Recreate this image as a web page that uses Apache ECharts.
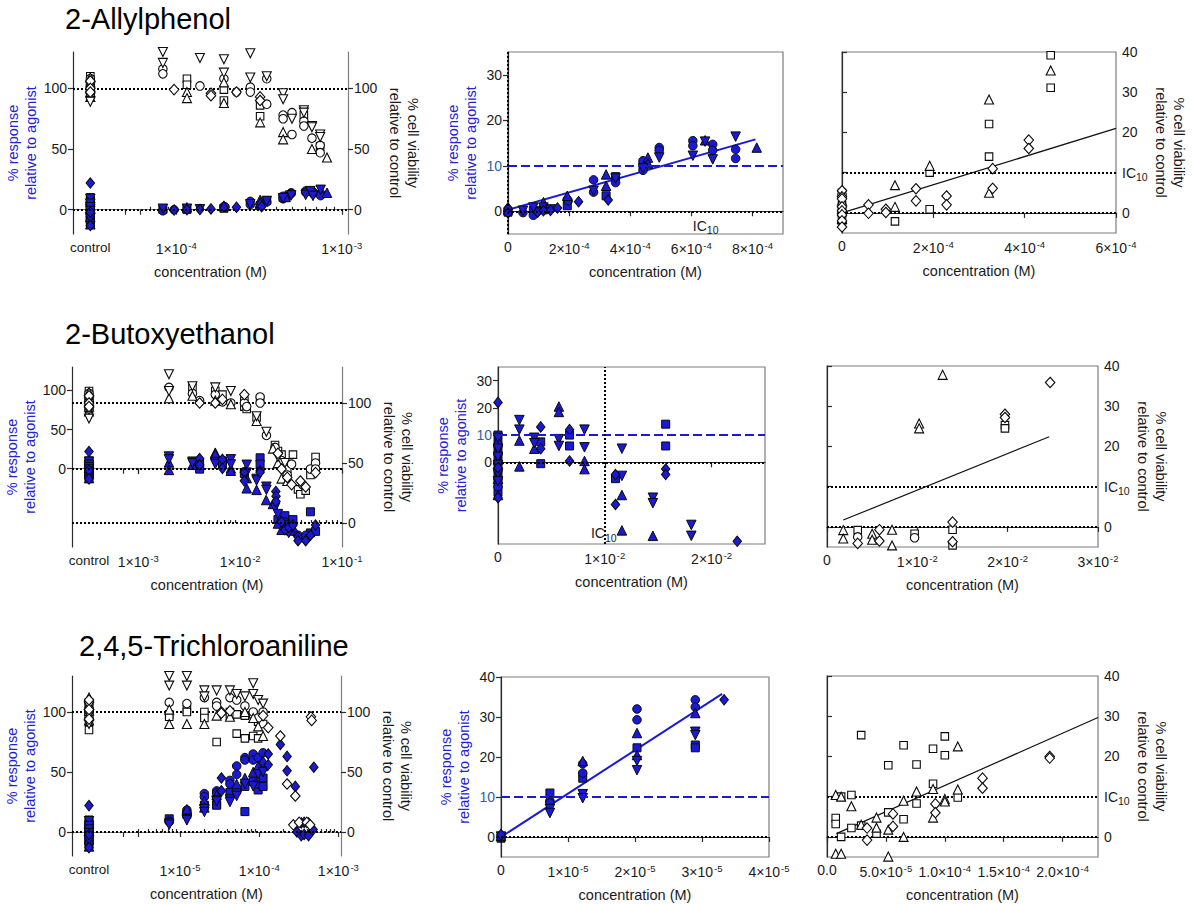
<!DOCTYPE html>
<html>
<head>
<meta charset="utf-8">
<script src="https://cdn.jsdelivr.net/npm/echarts@6/dist/echarts.min.js"></script>
<style>
  html, body { margin: 0; padding: 0; background: #fff; }
  #chart { width: 1192px; height: 904px; }
</style>
</head>
<body>
<div id="chart"></div>
<script>
// ================= data =================
// Solvent-control wells (agonist response, %), shared by all three compounds
const ctrlRespSquare  = [10, 7, 4, 1, -2, -5, -8, -11];
const ctrlRespDown    = [9, 5, 2, -1, -4, -7];
const ctrlRespCircle  = [6, 3, 0, -3, -6, -9];
const ctrlRespUp      = [8, 1, -6, -12];
const ctrlRespDiamond = [22, -2, -13];

// ---- 2-Allylphenol ----
const allylCtrlViabSquare  = [110, 107, 104, 101, 98, 95];
const allylCtrlViabCircle  = [108, 103, 99, 96];
const allylCtrlViabUp      = [109, 105, 100, 97, 93];
const allylCtrlViabDown    = [102, 94, 89];
const allylCtrlViabDiamond = [106, 100, 97];

const allylRespCircle  = [[4.9e-5,-0.3],[8.3e-5,-0.9],[9.7e-5,0],[1.94e-4,2.6],[1.97e-4,2.3],[2.8e-4,6.9],[2.8e-4,4.2],[3.52e-4,6.3],[4.42e-4,11.1],[4.42e-4,9.0],[4.95e-4,14.0],[4.95e-4,13.4],[6.05e-4,15.5],[6.05e-4,14.4],[6.7e-4,14.7],[6.7e-4,13.4],[7.45e-4,13.6],[7.45e-4,11.6]];
const allylRespUp      = [[1.16e-4,2.0],[1.94e-4,3.4],[3.21e-4,8.1],[3.21e-4,5.6],[4.58e-4,11.8],[4.58e-4,10.5],[6.45e-4,15.6],[8.14e-4,14.0]];
const allylRespDown    = [[4.9e-5,0.1],[8.3e-5,0.8],[1.16e-4,0.8],[1.39e-4,0.4],[2.8e-4,4.5],[3.52e-4,7.2],[4.42e-4,9.4],[4.95e-4,11.8],[6.05e-4,12.2],[6.45e-4,15.3],[6.7e-4,11.4],[7.45e-4,16.4]];
const allylRespSquare  = [[8.3e-5,0.2],[1.16e-4,0.3],[1.94e-4,1.2],[3.21e-4,3.4],[3.52e-4,7.6],[4.42e-4,10.2]];
const allylRespDiamond = [[9.7e-5,-0.2],[1.16e-4,0.1],[1.39e-4,0.2],[1.62e-4,0.7],[2.31e-4,2.1],[3.28e-4,2.5]];
const allylZeroCircle  = [[0,0.2]];
const allylZeroSquare  = [[0,-0.2]];
const allylZeroUp      = [[0,0.4]];
const allylZeroDiamond = [[0,0.7],[0,-0.4]];

const allylViabDown    = [[8.3e-5,130],[8.3e-5,121],[1.39e-4,125],[1.94e-4,124],[1.94e-4,113],[2.8e-4,129],[2.8e-4,109],[3.52e-4,110],[4.42e-4,96],[4.42e-4,91],[5.0e-4,75],[5.9e-4,82],[5.9e-4,80],[6.6e-4,69],[6.6e-4,68],[7.4e-4,62],[7.4e-4,60]];
const allylViabCircle  = [[8.3e-5,116],[8.3e-5,112],[1.39e-4,102],[1.94e-4,108],[2.31e-4,97],[2.8e-4,101],[2.8e-4,97],[3.52e-4,108],[3.52e-4,87],[4.42e-4,78],[4.42e-4,75],[5.0e-4,62],[5.0e-4,80],[5.9e-4,73],[5.9e-4,69],[6.6e-4,59],[7.4e-4,53],[7.4e-4,47]];
const allylViabSquare  = [[1.16e-4,108],[1.16e-4,103],[1.94e-4,99],[1.94e-4,90],[3.21e-4,86],[3.21e-4,77],[5.9e-4,78],[7.4e-4,52]];
const allylViabUp      = [[1.16e-4,97],[1.16e-4,92],[1.94e-4,105],[1.94e-4,88],[3.21e-4,72],[4.42e-4,64],[4.42e-4,58],[6.6e-4,50],[8.14e-4,43]];
const allylViabDiamond = [[9.7e-5,99],[1.62e-4,96],[1.62e-4,94],[2.31e-4,97],[3.21e-4,93],[3.21e-4,90]];

const allylInhibSquare  = [[4.57e-4,39.2],[4.57e-4,31.1],[3.22e-4,22.1],[3.22e-4,14.0],[1.92e-4,10.0],[1.92e-4,0.9],[1.16e-4,-2.1],[0,5],[0,2],[0,0],[0,-1]];
const allylInhibUp      = [[4.57e-4,35.4],[3.22e-4,28.2],[1.92e-4,11.7],[1.16e-4,6.9],[1.16e-4,1.5],[3.22e-4,5.0],[0,3],[0,1],[0,-1.5]];
const allylInhibDiamond = [[4.09e-4,18.1],[4.09e-4,16.0],[3.30e-4,11.0],[3.30e-4,6.1],[2.29e-4,4.2],[2.29e-4,2.0],[1.62e-4,6.0],[1.62e-4,3.0],[0.96e-4,0.9],[0.96e-4,0.1],[0.58e-4,2.0],[0.58e-4,-0.1],[0,5.5],[0,4],[0,3.5],[0,1.5],[0,0.5],[0,-0.5],[0,-2],[0,-3.5]];
const allylInhibCircle  = [[0,4.5],[0,0.5],[0,-2.5]];

const allylRespFit  = [[0,0.3],[8.1e-4,15.8]];
const allylInhibFit = [[0,0],[6e-4,21]];
const allylIC10     = [6.47e-4];

// ---- 2-Butoxyethanol ----
const butoxyCtrlViabSquare  = [110, 107, 104, 101, 98, 95];
const butoxyCtrlViabCircle  = [108, 103, 99, 96];
const butoxyCtrlViabUp      = [109, 105, 100, 97, 93];
const butoxyCtrlViabDown    = [102, 94, 87];
const butoxyCtrlViabDiamond = [106, 100, 97];

const butoxyRespDown    = [[2.0e-3,15.5],[2.0e-3,12],[3.4e-3,9],[3.4e-3,7],[5.7e-3,8.5],[5.7e-3,6],[8.1e-3,12],[8.1e-3,5.5],[1.16e-2,5],[1.16e-2,-5],[1.45e-2,-13],[1.45e-2,-15],[1.81e-2,-23],[1.81e-2,-27],[2.2e-2,-50],[2.35e-2,-58],[2.7e-2,-72],[3.0e-2,-82],[3.3e-2,-75]];
const butoxyRespUp      = [[2.0e-3,8],[2.0e-3,-1.5],[3.4e-3,5],[5.7e-3,20.5],[5.7e-3,18.5],[8.1e-3,0.5],[8.1e-3,-2.5],[1.16e-2,-12],[1.16e-2,-25],[1.45e-2,-27],[1.8e-2,-40],[2.1e-2,-45],[2.35e-2,-70],[2.55e-2,-78]];
const butoxyRespSquare  = [[4.0e-3,7.5],[4.0e-3,-0.5],[6.7e-3,10],[6.7e-3,6],[1.1e-2,-6],[1.57e-2,14],[1.57e-2,6],[2.35e-2,-65],[2.75e-2,-60],[3.3e-2,-65],[4.4e-2,-88],[4.9e-2,-55],[4.9e-2,-82],[5.5e-2,-80]];
const butoxyRespDiamond = [[4.0e-3,13],[4.0e-3,5],[6.7e-3,12],[6.7e-3,0.5],[1.1e-2,-4.5],[1.1e-2,-15.5],[1.57e-2,-2.5],[1.57e-2,-4.5],[2.24e-2,-29],[2.25e-2,-35],[2.25e-2,-42],[2.55e-2,-68],[2.75e-2,-78],[3.0e-2,-75],[3.3e-2,-72],[3.7e-2,-87],[3.7e-2,-92],[4.4e-2,-92],[4.9e-2,-85],[5.5e-2,-72]];
const butoxyRespCircle  = [[2.55e-2,-70],[2.75e-2,-68],[3.0e-2,-80],[3.3e-2,-80],[3.7e-2,-85],[4.4e-2,-85]];

const butoxyViabDown    = [[2.0e-3,124],[2.0e-3,110],[3.4e-3,114],[5.7e-3,113],[8.1e-3,110],[1.45e-2,89],[1.81e-2,76],[2.35e-2,55],[2.75e-2,50]];
const butoxyViabUp      = [[2.0e-3,104],[3.4e-3,106],[5.7e-3,102],[8.1e-3,99],[1.45e-2,85],[2.1e-2,62],[2.35e-2,50],[2.55e-2,37],[2.9e-2,35]];
const butoxyViabCircle  = [[2.0e-3,113],[3.4e-3,108],[4.0e-3,102],[5.7e-3,107],[6.7e-3,101],[8.1e-3,100],[1.1e-2,100],[1.16e-2,97],[1.57e-2,105],[1.57e-2,100],[1.81e-2,73],[2.2e-2,63],[2.55e-2,52],[2.9e-2,40],[3.2e-2,49],[4.1e-2,32],[4.9e-2,45],[5.5e-2,50],[5.5e-2,45]];
const butoxyViabSquare  = [[3.4e-3,113],[5.7e-3,110],[6.7e-3,107],[1.1e-2,102],[1.1e-2,97],[1.16e-2,95],[1.45e-2,88],[1.57e-2,103],[2.2e-2,65],[2.35e-2,60],[2.55e-2,57],[2.9e-2,45],[3.3e-2,57],[3.7e-2,28],[3.9e-2,24],[4.4e-2,27],[4.9e-2,40],[5.5e-2,55]];
const butoxyViabDiamond = [[4.0e-3,100],[5.7e-3,100],[6.7e-3,103],[1.1e-2,107],[2.35e-2,58],[2.55e-2,45],[2.9e-2,38],[3.2e-2,32],[3.9e-2,35],[4.4e-2,30],[5.5e-2,42]];

const butoxyInhibUp      = [[1.28e-2,37.8],[1.02e-2,25.7],[1.02e-2,24.5],[1.8e-3,-0.8],[1.8e-3,-2.9],[5.0e-3,-1.7],[5.0e-3,-3.2],[7.2e-3,-0.7],[7.2e-3,-4.6]];
const butoxyInhibDiamond = [[2.47e-2,35.9],[1.97e-2,28],[1.97e-2,27.2],[3.4e-3,-4.1],[5.8e-3,-0.7],[5.8e-3,-3.5],[1.39e-2,1.2],[1.39e-2,-3.7]];
const butoxyInhibSquare  = [[1.97e-2,25.3],[1.97e-2,24.5],[3.4e-3,-0.8],[9.7e-3,-1.7],[1.39e-2,-0.7],[1.39e-2,-4.6]];
const butoxyInhibCircle  = [[3.4e-3,-2.5],[9.7e-3,-2.7]];

const butoxyInhibFit = [[1.8e-3,1.7],[2.46e-2,22.4]];
const butoxyIC10     = [9.9e-3];

// ---- 2,4,5-Trichloroaniline ----
const tcaCtrlViabSquare  = [108, 104, 100, 96, 92, 85];
const tcaCtrlViabCircle  = [107, 103, 99, 95];
const tcaCtrlViabUp      = [112, 106, 101, 97, 93];
const tcaCtrlViabDown    = [105, 98, 90];
const tcaCtrlViabDiamond = [110, 102, 94];

const tcaRespCircle  = [[7.3e-6,9],[7.3e-6,8.5],[1.22e-5,18.3],[1.22e-5,16],[2.03e-5,32],[2.03e-5,29.3],[2.9e-5,34.3],[2.9e-5,32.5],[4.27e-5,43],[4.27e-5,40],[5.2e-5,55],[5.2e-5,48],[6.6e-5,62],[6.6e-5,60],[8.4e-5,65],[8.4e-5,60],[9.7e-5,62],[1.12e-4,66]];
const tcaRespUp      = [[1.22e-5,19],[2.03e-5,26],[2.03e-5,20.5],[2.9e-5,31],[5.2e-5,40],[6.6e-5,45],[8.4e-5,50],[9.7e-5,55],[1.12e-4,55]];
const tcaRespDown    = [[7.3e-6,7],[7.3e-6,6],[1.22e-5,10.7],[1.22e-5,9.7],[2.03e-5,19],[2.03e-5,16.7],[2.9e-5,26.3],[2.9e-5,25.5],[4.27e-5,27],[4.27e-5,25],[5.2e-5,30],[6.6e-5,40],[8.4e-5,38],[9.7e-5,48],[1.12e-4,50]];
const tcaRespSquare  = [[7.3e-6,11],[1.22e-5,14.7],[2.03e-5,22.3],[2.9e-5,23],[2.9e-5,22.3],[4.27e-5,33],[5.2e-5,35],[6.6e-5,38],[6.6e-5,17],[8.4e-5,42],[9.7e-5,35],[9.7e-5,40],[1.12e-4,45],[1.12e-4,38]];
const tcaRespDiamond = [[3.33e-5,34.3],[3.33e-5,45],[1.12e-4,58],[1.3e-4,65],[1.3e-4,56],[1.85e-4,73],[2.25e-4,63],[2.25e-4,51],[2.86e-4,38],[4.9e-4,54],[3.0e-4,0],[3.4e-4,7.5],[3.4e-4,-3],[3.7e-4,8],[3.7e-4,-2],[4.2e-4,7.5],[4.2e-4,-3],[4.8e-4,2]];
const tcaZeroCircle  = [[0,0]];
const tcaZeroSquare  = [[0,-0.3]];
const tcaZeroUp      = [[0,0.3]];
const tcaZeroDown    = [[0,0.1]];
const tcaZeroDiamond = [[0,0.6]];

const tcaViabDown    = [[7.3e-6,130],[7.3e-6,122],[1.22e-5,130],[1.22e-5,122],[2.03e-5,118],[2.03e-5,113],[2.9e-5,118],[4.27e-5,118],[5.2e-5,115],[6.6e-5,113],[8.4e-5,124],[8.4e-5,115],[9.7e-5,110],[1.12e-4,107]];
const tcaViabCircle  = [[7.3e-6,108],[1.22e-5,107],[2.03e-5,112],[2.9e-5,108],[2.9e-5,105],[4.27e-5,112],[5.2e-5,110],[6.6e-5,105],[8.4e-5,100],[9.7e-5,95],[1.12e-4,100]];
const tcaViabSquare  = [[7.3e-6,98],[7.3e-6,96],[1.22e-5,102],[1.22e-5,100],[2.03e-5,100],[2.03e-5,95],[2.9e-5,75],[4.27e-5,100],[4.27e-5,97],[5.2e-5,98],[5.2e-5,82],[6.6e-5,97],[6.6e-5,78],[8.4e-5,98],[8.4e-5,80],[9.7e-5,92],[9.7e-5,78],[1.12e-4,90]];
const tcaViabUp      = [[7.3e-6,102],[7.3e-6,90],[1.22e-5,90],[2.03e-5,90],[2.9e-5,97],[4.27e-5,96],[6.6e-5,100],[8.4e-5,95],[9.7e-5,88],[1.12e-4,80]];
const tcaViabDiamond = [[3.33e-5,100],[3.33e-5,99],[4.27e-5,101],[1.12e-4,97],[1.3e-4,87],[1.85e-4,80],[2.25e-4,40],[2.86e-4,30],[4.5e-4,96],[4.6e-4,93],[2.7e-4,6],[3.2e-4,8],[4.0e-4,8],[4.4e-4,6]];

const tcaInhibSquare  = [[2.9e-5,25.3],[6.5e-5,22.8],[9.0e-5,21.9],[1.0e-4,25],[1.0e-4,20.3],[5.2e-5,17.8],[7.6e-5,18],[9.0e-5,13.2],[2.07e-5,10.4],[1.2e-5,10.0],[1.11e-4,9.8],[7.6e-5,8.3],[7.4e-6,4.7],[7.4e-6,3.2],[5.2e-5,6.1],[6.5e-5,4.4],[2.07e-5,2.2],[2.9e-5,2.8],[4.2e-5,0.8],[1.2e-5,0]];
const tcaInhibUp      = [[1.11e-4,22.5],[7.6e-5,11.3],[9.0e-5,11.9],[1.11e-4,11.8],[7.4e-6,10.4],[1.2e-5,10],[2.07e-5,7.6],[6.5e-5,9],[1.0e-4,9.4],[1.0e-4,8.8],[4.2e-5,4.8],[4.2e-5,2.3],[5.2e-5,1.8],[2.9e-5,3],[9.0e-5,4.8],[6.5e-5,0],[7.4e-6,-4.2],[1.2e-5,-4.2],[5.2e-5,-4.9]];
const tcaInhibDiamond = [[1.89e-4,20],[1.89e-4,19.6],[1.32e-4,14.6],[1.32e-4,12.1],[9.2e-5,8.2],[9.2e-5,6.0],[5.6e-5,5.7],[5.6e-5,2.6],[3.4e-5,2.2],[3.4e-5,-0.8]];

const tcaRespFit  = [[0,0],[3.3e-5,35.8]];
const tcaInhibFit = [[8e-6,0.8],[2.3e-4,29.7]];

// ================= styling helpers =================
const FONT = '"Liberation Sans", Arial, Helvetica, sans-serif';
const BLUE = '#1a1ad6';
const BLUE_TXT = '#2222d2';
const AXIS = '#2b2b2b';
const FRAME = '#7d7d7d';
const DOT = [2, 2];
const DASH = [9, 4];

// rich-text styles for exponents and subscripts
const RICH = {
  b:   { fontSize: 14, fontFamily: FONT, color: '#1a1a1a' },
  sup: { fontSize: 9.5, fontFamily: FONT, color: '#1a1a1a', padding: [0, 0, 8, 1] },
  sub: { fontSize: 10.5, fontFamily: FONT, color: '#1a1a1a', padding: [9, 0, 0, 0] }
};
function sciLabel(v, dec) {
  v = +v;
  if (v === 0) return '{b|' + (dec ? (0).toFixed(dec) : '0') + '}';
  const e = Math.floor(Math.log10(v) + 1e-9);
  const m = v / Math.pow(10, e);
  return '{b|' + (dec ? m.toFixed(dec) : String(Math.round(m))) + '×10}{sup|' + e + '}';
}
const IC_TEXT = '{b|IC}{sub|10}';
function minorTicks(lo, hi) {
  const out = [];
  for (let e = Math.floor(Math.log10(lo)); e <= Math.ceil(Math.log10(hi)); e++) {
    for (let k = 2; k <= 9; k++) {
      const v = k * Math.pow(10, e);
      if (v > lo * 1.001 && v < hi * 0.999) out.push(v);
    }
  }
  return out;
}

const option = {
  animation: false,
  backgroundColor: '#ffffff',
  textStyle: { fontFamily: FONT },
  title: [], grid: [], xAxis: [], yAxis: [], series: []
};

function addGrid(g) {
  option.grid.push(Object.assign({ containLabel: false, outerBoundsMode: 'none', show: false }, g));
  return option.grid.length - 1;
}
function addX(a) { option.xAxis.push(a); return option.xAxis.length - 1; }
function addY(a) { option.yAxis.push(a); return option.yAxis.length - 1; }

function labelStyle(extra) {
  return Object.assign({ color: '#1a1a1a', fontSize: 14, fontFamily: FONT, margin: 6 }, extra || {});
}
const nameStyle = (color) => ({ color: color, fontSize: 14.5, fontFamily: FONT, lineHeight: 18 });
const lineSt = (c) => ({ color: c, width: 1.2 });
const hiddenAxis = (gi, min, max) => ({ gridIndex: gi, type: 'value', show: false, min: min, max: max, splitLine: { show: false } });

const SHAPES = {
  circle:  { symbol: 'circle',   fill: 8.5,     open: 8.5 },
  square:  { symbol: 'rect',     fill: 8,       open: 7.5 },
  up:      { symbol: 'triangle', fill: 9.5,     open: 9 },
  down:    { symbol: 'triangle', fill: 9.5,     open: 9, rotate: 180 },
  diamond: { symbol: 'diamond',  fill: [8.5, 10.5], open: [9.5, 10.5] }
};

function scatter(xi, yi, data, shape, filled) {
  const s = SHAPES[shape];
  option.series.push({
    type: 'scatter', xAxisIndex: xi, yAxisIndex: yi, data: data, silent: true,
    symbol: s.symbol, symbolRotate: s.rotate || 0,
    symbolSize: filled ? s.fill : s.open,
    itemStyle: filled
      ? { color: BLUE, borderColor: '#0a0a0a', borderWidth: 1, opacity: 1 }
      : { color: '#ffffff', borderColor: '#0a0a0a', borderWidth: 1.1, opacity: 1 },
    z: filled ? 4 : 5
  });
}
function fitLine(xi, yi, data, color, width) {
  option.series.push({
    type: 'line', xAxisIndex: xi, yAxisIndex: yi, data: data, silent: true,
    showSymbol: false, symbol: 'none', lineStyle: { color: color, width: width }, z: 3
  });
}
function refLines(xi, yi, lines) {
  option.series.push({
    type: 'line', xAxisIndex: xi, yAxisIndex: yi, data: [], silent: true, z: 2,
    markLine: {
      silent: true, symbol: ['none', 'none'], label: { show: false }, animation: false,
      data: lines.map(l => ({
        [l.axis === 'x' ? 'xAxis' : 'yAxis']: l.value,
        lineStyle: { color: l.color || '#000', type: l.dash || DOT, width: l.width || 2, opacity: 1 }
      }))
    }
  });
}
function icLabel(xi, yi, x, y) {
  option.series.push({
    type: 'scatter', xAxisIndex: xi, yAxisIndex: yi, data: [[x, y]], silent: true,
    symbolSize: 0, z: 6, itemStyle: { opacity: 1, color: '#1a1a1a' },
    label: { show: true, position: 'inside', formatter: IC_TEXT, rich: RICH, opacity: 1 }
  });
}
const atX = (x, ys) => ys.map(y => [x, y]);

// ---- dose-response panel with control block and log concentration axis ----
function logPanel(p) {
  const h = p.bottom - p.top;
  // control block
  const gC = addGrid({ left: p.left, top: p.top, width: p.ctrlRight - p.left, height: h });
  const xC = addX({
    gridIndex: gC, type: 'value', min: 0, max: 3,
    axisLine: { show: true, lineStyle: lineSt(AXIS) },
    axisTick: { show: true, customValues: [1, 3], length: 5, lineStyle: lineSt(AXIS) },
    axisLabel: labelStyle({ customValues: [1], formatter: () => 'control', fontSize: 13.5 }),
    splitLine: { show: false }
  });
  const yCL = addY({
    gridIndex: gC, type: 'value', position: 'left', min: p.lMin, max: p.lMax,
    axisLine: { show: true, lineStyle: lineSt(AXIS) },
    axisTick: { show: true, customValues: p.lTicks, length: 5, lineStyle: lineSt(AXIS) },
    axisLabel: labelStyle({ customValues: p.lTicks }),
    splitLine: { show: false },
    name: '% response\nrelative to agonist', nameLocation: 'middle', nameGap: 31,
    nameTextStyle: nameStyle(BLUE_TXT)
  });
  const yCR = addY(hiddenAxis(gC, p.rMin, p.rMax));

  // concentration block (log scale)
  const gL = addGrid({ left: p.logLeft, top: p.top, width: p.right - p.logLeft, height: h });
  const xL = addX({
    gridIndex: gL, type: 'log', logBase: 10, min: p.logMin, max: p.logMax,
    axisLine: { show: true, lineStyle: lineSt(AXIS) },
    axisTick: { show: true, customValues: [p.logMin * 1.002].concat(p.majors), length: 5, lineStyle: lineSt(AXIS) },
    axisLabel: labelStyle({ customValues: p.majors, formatter: v => sciLabel(v), rich: RICH }),
    splitLine: { show: false }, minorTick: { show: false }, minorSplitLine: { show: false }
  });
  addX({
    gridIndex: gL, type: 'log', logBase: 10, min: p.logMin, max: p.logMax,
    axisLine: { show: false },
    axisTick: { show: true, customValues: minorTicks(p.logMin, p.logMax), length: 3, lineStyle: lineSt(AXIS) },
    axisLabel: { show: false }, splitLine: { show: false }
  });
  const yLL = addY(hiddenAxis(gL, p.lMin, p.lMax));
  const yLR = addY({
    gridIndex: gL, type: 'value', position: 'right', min: p.rMin, max: p.rMax,
    axisLine: { show: true, lineStyle: lineSt(FRAME) },
    axisTick: { show: true, customValues: p.rTicks, length: 5, lineStyle: lineSt(AXIS) },
    axisLabel: labelStyle({ customValues: p.rTicks }),
    splitLine: { show: false },
    name: '% cell viability\nrelative to control', nameLocation: 'middle', nameGap: 38, nameRotate: -90,
    nameTextStyle: nameStyle('#1a1a1a')
  });

  // outer frame, reference lines and axis title
  const gF = addGrid({ left: p.left, top: p.top, width: p.right - p.left, height: h });
  addX({
    gridIndex: gF, type: 'value', position: 'top', min: 0, max: 1,
    axisLine: { show: true, lineStyle: lineSt(FRAME) }, axisTick: { show: false },
    axisLabel: { show: false }, splitLine: { show: false }
  });
  const xFb = addX({
    gridIndex: gF, type: 'value', position: 'bottom', min: 0, max: 1,
    axisLine: { show: false }, axisTick: { show: false }, axisLabel: { show: false }, splitLine: { show: false },
    name: 'concentration (M)', nameLocation: 'middle', nameGap: 29, nameTextStyle: nameStyle('#1a1a1a')
  });
  const yFL = addY(hiddenAxis(gF, p.lMin, p.lMax));
  const yFR = addY(hiddenAxis(gF, p.rMin, p.rMax));
  if (p.lLines.length) refLines(xFb, yFL, p.lLines.map(v => ({ axis: 'y', value: v })));
  if (p.rLines.length) refLines(xFb, yFR, p.rLines.map(v => ({ axis: 'y', value: v })));

  // control markers
  scatter(xC, yCR, atX(1, p.ctrlViab.square), 'square', false);
  scatter(xC, yCR, atX(1, p.ctrlViab.circle), 'circle', false);
  scatter(xC, yCR, atX(1, p.ctrlViab.up), 'up', false);
  scatter(xC, yCR, atX(1, p.ctrlViab.down), 'down', false);
  scatter(xC, yCR, atX(1, p.ctrlViab.diamond), 'diamond', false);
  scatter(xC, yCL, atX(1, ctrlRespSquare), 'square', true);
  scatter(xC, yCL, atX(1, ctrlRespCircle), 'circle', true);
  scatter(xC, yCL, atX(1, ctrlRespUp), 'up', true);
  scatter(xC, yCL, atX(1, ctrlRespDown), 'down', true);
  scatter(xC, yCL, atX(1, ctrlRespDiamond), 'diamond', true);
  // treated wells
  for (const k in p.viab) scatter(xL, yLR, p.viab[k], k, false);
  for (const k in p.resp) scatter(xL, yLL, p.resp[k], k, true);
}

// ---- agonist response vs linear concentration ----
function respPanel(p) {
  const g = addGrid({ left: p.left, top: p.top, width: p.right - p.left, height: p.bottom - p.top,
    show: true, borderColor: FRAME, borderWidth: 1.2, backgroundColor: 'transparent' });
  const x = addX({
    gridIndex: g, type: 'value', min: 0, max: p.xMax,
    axisLine: { show: true, lineStyle: lineSt(AXIS) },
    axisTick: { show: true, customValues: p.xTicks, length: 5, lineStyle: lineSt(AXIS) },
    axisLabel: labelStyle({ customValues: p.xTicks, formatter: v => sciLabel(v, p.dec), rich: RICH }),
    splitLine: { show: false },
    name: 'concentration (M)', nameLocation: 'middle', nameGap: 29, nameTextStyle: nameStyle('#1a1a1a')
  });
  const y = addY({
    gridIndex: g, type: 'value', position: 'left', min: p.yMin, max: p.yMax,
    axisLine: { show: true, lineStyle: lineSt(AXIS) },
    axisTick: { show: true, customValues: p.yTicks, length: 5, lineStyle: lineSt(AXIS) },
    axisLabel: labelStyle({ customValues: p.yTicks, color: v => (+v === 10 ? '#2d62a6' : '#1a1a1a') }),
    splitLine: { show: false },
    name: '% response\nrelative to agonist', nameLocation: 'middle', nameGap: 28,
    nameTextStyle: nameStyle(BLUE_TXT)
  });
  const lines = [{ axis: 'y', value: 0 }, { axis: 'y', value: 10, color: BLUE, dash: DASH, width: 1.8 }];
  if (p.ic != null) lines.push({ axis: 'x', value: p.ic });
  refLines(x, y, lines);
  if (p.fit) fitLine(x, y, p.fit, BLUE, 2);
  for (const k in p.resp) scatter(x, y, p.resp[k], k, true);
  if (p.zero) for (const k in p.zero) scatter(x, y, p.zero[k], k, true);
  if (p.ic != null) icLabel(x, y, p.ic, p.icLabelY);
}

// ---- cytotoxicity (inhibition of viability) vs linear concentration ----
function viabPanel(p) {
  const g = addGrid({ left: p.left, top: p.top, width: p.right - p.left, height: p.bottom - p.top,
    show: true, borderColor: FRAME, borderWidth: 1.2, backgroundColor: 'transparent' });
  const x = addX({
    gridIndex: g, type: 'value', min: 0, max: p.xMax,
    axisLine: { show: true, lineStyle: lineSt(AXIS) },
    axisTick: { show: true, customValues: p.xTicks, length: 5, lineStyle: lineSt(AXIS) },
    axisLabel: labelStyle({ customValues: p.xTicks, formatter: v => sciLabel(v, p.dec), rich: RICH }),
    splitLine: { show: false },
    name: 'concentration (M)', nameLocation: 'middle', nameGap: 29, nameTextStyle: nameStyle('#1a1a1a')
  });
  const y = addY({
    gridIndex: g, type: 'value', position: 'right', min: -5, max: 40,
    axisLine: { show: true, lineStyle: lineSt(AXIS) },
    axisTick: { show: true, customValues: [0, 10, 20, 30, 40], length: 5, lineStyle: lineSt(AXIS) },
    axisLabel: labelStyle({ customValues: [0, 10, 20, 30, 40], rich: RICH,
      formatter: v => (+v === 10 ? IC_TEXT : '{b|' + v + '}') }),
    splitLine: { show: false },
    name: '% cell viability\nrelative to control', nameLocation: 'middle', nameGap: 35, nameRotate: -90,
    nameTextStyle: nameStyle('#1a1a1a')
  });
  refLines(x, y, [{ axis: 'y', value: 0 }, { axis: 'y', value: 10 }]);
  fitLine(x, y, p.fit, '#111111', 1.2);
  for (const k in p.data) scatter(x, y, p.data[k], k, false);
}

function heading(text, left, top) {
  option.title.push({ text: text, left: left, top: top, padding: 0,
    textStyle: { fontSize: 29, fontWeight: 'normal', fontFamily: FONT, color: '#000' } });
}

// ================= layout =================
heading('2-Allylphenol', 65, 4);
heading('2-Butoxyethanol', 65, 319);
heading('2,4,5-Trichloroaniline', 79, 631);

// row 1: 2-Allylphenol
logPanel({
  left: 73, ctrlRight: 125, logLeft: 140.5, right: 348, top: 52, bottom: 234,
  logMin: 6.08e-5, logMax: 1.09e-3, majors: [1e-4, 1e-3],
  lMin: -20, lMax: 130, lTicks: [0, 50, 100], rMin: -20, rMax: 130, rTicks: [0, 50, 100],
  lLines: [0, 100], rLines: [],
  ctrlViab: { square: allylCtrlViabSquare, circle: allylCtrlViabCircle, up: allylCtrlViabUp, down: allylCtrlViabDown, diamond: allylCtrlViabDiamond },
  viab: { square: allylViabSquare, circle: allylViabCircle, up: allylViabUp, down: allylViabDown, diamond: allylViabDiamond },
  resp: { square: allylRespSquare, circle: allylRespCircle, up: allylRespUp, down: allylRespDown, diamond: allylRespDiamond }
});
respPanel({
  left: 508, right: 783, top: 52, bottom: 234, xMax: 9e-4, xTicks: [0, 2e-4, 4e-4, 6e-4, 8e-4],
  yMin: -5, yMax: 35, yTicks: [0, 10, 20, 30], ic: allylIC10[0], icLabelY: -3.2, fit: allylRespFit,
  resp: { square: allylRespSquare, circle: allylRespCircle, up: allylRespUp, down: allylRespDown, diamond: allylRespDiamond },
  zero: { square: allylZeroSquare, circle: allylZeroCircle, up: allylZeroUp, diamond: allylZeroDiamond }
});
viabPanel({
  left: 842, right: 1116, top: 52, bottom: 233, xMax: 6e-4, xTicks: [0, 2e-4, 4e-4, 6e-4],
  fit: allylInhibFit,
  data: { square: allylInhibSquare, circle: allylInhibCircle, up: allylInhibUp, diamond: allylInhibDiamond }
});

// row 2: 2-Butoxyethanol
logPanel({
  left: 72, ctrlRight: 123, logLeft: 138.3, right: 342, top: 367, bottom: 547,
  logMin: 1e-3, logMax: 1e-1, majors: [1e-3, 1e-2, 1e-1],
  lMin: -100, lMax: 130, lTicks: [0, 50, 100], rMin: -20, rMax: 130, rTicks: [0, 50, 100],
  lLines: [0], rLines: [0, 100],
  ctrlViab: { square: butoxyCtrlViabSquare, circle: butoxyCtrlViabCircle, up: butoxyCtrlViabUp, down: butoxyCtrlViabDown, diamond: butoxyCtrlViabDiamond },
  viab: { square: butoxyViabSquare, circle: butoxyViabCircle, up: butoxyViabUp, down: butoxyViabDown, diamond: butoxyViabDiamond },
  resp: { square: butoxyRespSquare, circle: butoxyRespCircle, up: butoxyRespUp, down: butoxyRespDown, diamond: butoxyRespDiamond }
});
respPanel({
  left: 498, right: 765, top: 367, bottom: 544, xMax: 2.5e-2, xTicks: [0, 1e-2, 2e-2],
  yMin: -30, yMax: 35, yTicks: [0, 10, 20, 30], ic: butoxyIC10[0], icLabelY: -26,
  resp: { square: butoxyRespSquare, circle: butoxyRespCircle, up: butoxyRespUp, down: butoxyRespDown, diamond: butoxyRespDiamond },
  zero: { square: atX(0, ctrlRespSquare), circle: atX(0, ctrlRespCircle), up: atX(0, ctrlRespUp), down: atX(0, ctrlRespDown), diamond: atX(0, ctrlRespDiamond) }
});
viabPanel({
  left: 827, right: 1098, top: 366, bottom: 547, xMax: 3e-2, xTicks: [0, 1e-2, 2e-2, 3e-2],
  fit: butoxyInhibFit,
  data: { square: butoxyInhibSquare, circle: butoxyInhibCircle, up: butoxyInhibUp, diamond: butoxyInhibDiamond }
});

// row 3: 2,4,5-Trichloroaniline
logPanel({
  left: 72, ctrlRight: 123, logLeft: 138.3, right: 341, top: 676, bottom: 856,
  logMin: 2.97e-6, logMax: 1.08e-3, majors: [1e-5, 1e-4, 1e-3],
  lMin: -20, lMax: 130, lTicks: [0, 50, 100], rMin: -20, rMax: 130, rTicks: [0, 50, 100],
  lLines: [0, 100], rLines: [],
  ctrlViab: { square: tcaCtrlViabSquare, circle: tcaCtrlViabCircle, up: tcaCtrlViabUp, down: tcaCtrlViabDown, diamond: tcaCtrlViabDiamond },
  viab: { square: tcaViabSquare, circle: tcaViabCircle, up: tcaViabUp, down: tcaViabDown, diamond: tcaViabDiamond },
  resp: { square: tcaRespSquare, circle: tcaRespCircle, up: tcaRespUp, down: tcaRespDown, diamond: tcaRespDiamond }
});
respPanel({
  left: 501, right: 769, top: 677, bottom: 857, xMax: 4e-5, xTicks: [0, 1e-5, 2e-5, 3e-5, 4e-5],
  yMin: -5, yMax: 40, yTicks: [0, 10, 20, 30, 40], fit: tcaRespFit,
  resp: { square: tcaRespSquare, circle: tcaRespCircle, up: tcaRespUp, down: tcaRespDown, diamond: tcaRespDiamond },
  zero: { square: tcaZeroSquare, circle: tcaZeroCircle, up: tcaZeroUp, down: tcaZeroDown, diamond: tcaZeroDiamond }
});
viabPanel({
  left: 827, right: 1098, top: 676, bottom: 857, xMax: 2.3e-4, xTicks: [0, 5e-5, 1e-4, 1.5e-4, 2e-4], dec: 1,
  fit: tcaInhibFit,
  data: { square: tcaInhibSquare, up: tcaInhibUp, diamond: tcaInhibDiamond }
});

const chart = echarts.init(document.getElementById('chart'), null, { renderer: 'svg', width: 1192, height: 904 });
chart.setOption(option);
</script>
</body>
</html>
